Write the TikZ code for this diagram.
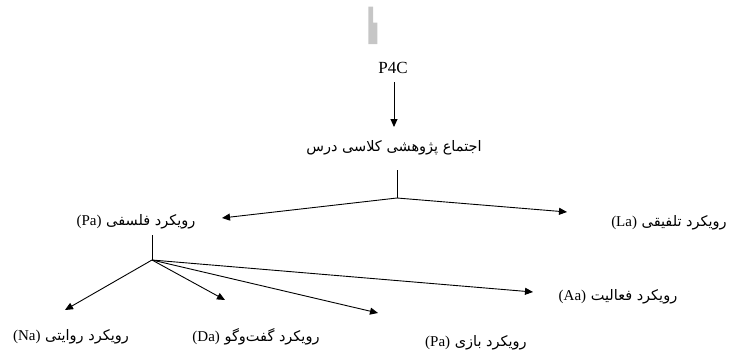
\documentclass[tikz,border=0pt]{standalone}
\usepackage{fontspec}
\setmainfont{Liberation Serif}
\newfontfamily\arabicfont[Script=Arabic]{DejaVu Sans}
\TeXXeTstate=1
\usetikzlibrary{arrows.meta}
\tikzset{
  lbl/.style={inner sep=0pt, font=\fontsize{17}{19}\selectfont},
  fa/.style={inner sep=0pt, font=\arabicfont\fontsize{14.5}{17}\selectfont},
  con/.style={line width=0.9pt, black},
  arr/.style={con, -{Triangle[length=8pt,width=7pt]}},
}
\newcommand{\lat}[1]{{\rmfamily\fontsize{15}{17}\selectfont #1}}
\begin{document}
\begin{tikzpicture}[x=1pt,y=-1pt]
\useasboundingbox (0,0) rectangle (729,351);
% gray artefact bar
\fill[gray!45] (368.3,6.7) rectangle (373,44) (373,22.7) rectangle (377.3,44);
% nodes
\node[lbl] (p4c) at (393,68) {P4C};
\node[fa] (ej) at (394,148) {\beginR اجتماع پژوهشی کلاسی درس\endR};
\node[fa] (pa) at (136,222) {\beginR رویکرد فلسفی \beginL\lat{(Pa)}\endL\endR};
\node[fa] (la) at (669,223) {\beginR رویکرد تلفیقی \beginL\lat{(La)}\endL\endR};
\node[fa] (na) at (71,337) {\beginR رویکرد روایتی \beginL\lat{(Na)}\endL\endR};
\node[fa] (da) at (256,337) {\beginR رویکرد گفت‌وگو \beginL\lat{(Da)}\endL\endR};
\node[fa] (bz) at (476,343) {\beginR رویکرد بازی \beginL\lat{(Pa)}\endL\endR};
\node[fa] (aa) at (618,297) {\beginR رویکرد فعالیت \beginL\lat{(Aa)}\endL\endR};
% junctions and tips
\coordinate (a0) at (394,82);
\coordinate (a1) at (394,127);
\coordinate (j1top) at (397,170);
\coordinate (j1) at (397,198);
\coordinate (tpa) at (222,218);
\coordinate (tla) at (567,212);
\coordinate (j2top) at (152,235);
\coordinate (j2) at (152,260);
\coordinate (tna) at (65,310);
\coordinate (tda) at (225,300);
\coordinate (tbz) at (378,313);
\coordinate (taa) at (533,292);
% connectors
\draw[arr] (a0) -- (a1);
\draw[con] (j1top) -- (j1);
\draw[arr] (j1) -- (tpa);
\draw[arr] (j1) -- (tla);
\draw[con] (j2top) -- (j2);
\draw[arr] (j2) -- (tna);
\draw[arr] (j2) -- (tda);
\draw[arr] (j2) -- (tbz);
\draw[arr] (j2) -- (taa);
\end{tikzpicture}
\end{document}
